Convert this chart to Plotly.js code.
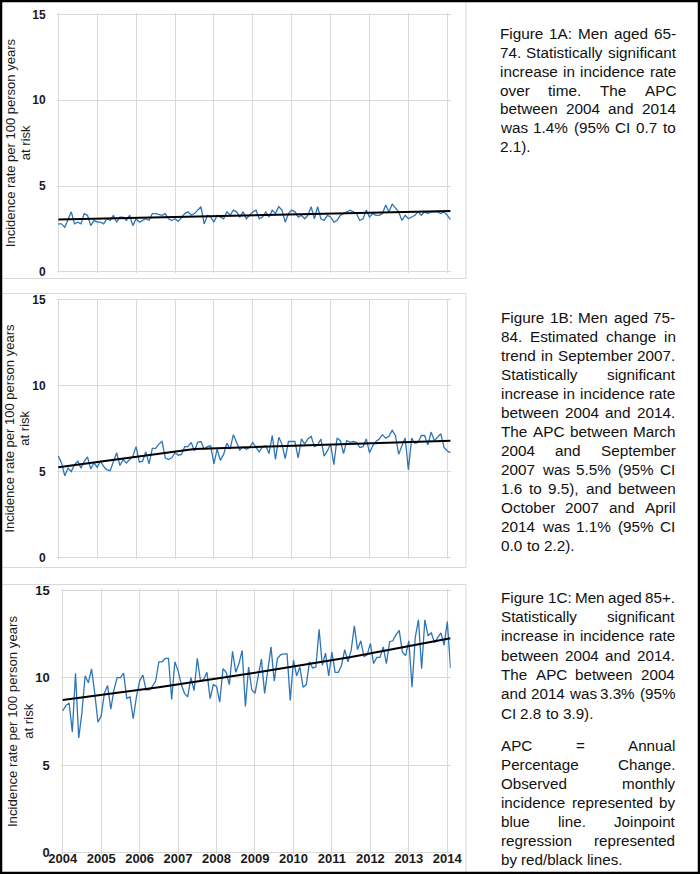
<!DOCTYPE html>
<html>
<head>
<meta charset="utf-8">
<script src="https://cdn.plot.ly/plotly-3.0.1.min.js"></script>
<style>
html,body{margin:0;padding:0;background:#fff;}
#chart{width:700px;height:874px;}
</style>
</head>
<body>
<div id="chart"></div>
<script>
// ---------------- DATA ----------------
const yearLabels = ['2004','2005','2006','2007','2008','2009','2010','2011','2012','2013','2014'];
const yearTickIndex = [0,12,24,36,48,60,72,84,96,108,120];   // month index of each year label
const yTickVals = [0,5,10,15];

// Observed monthly incidence (per 100 person years at risk), March 2004 .. April 2014
const men6574 = [2.8,2.8,2.6,3.0,3.5,2.8,2.9,2.8,3.4,3.3,
  2.7,3.0,2.9,2.9,2.8,3.1,3.0,3.3,2.9,3.2,
  3.2,3.0,3.3,2.7,3.1,2.9,3.0,3.1,3.0,3.4,
  3.4,3.35,3.3,3.4,3.1,3.0,3.1,2.95,3.2,3.4,
  3.5,3.3,3.4,3.6,3.8,2.8,3.3,3.2,2.9,3.3,
  3.2,3.1,3.5,3.3,3.6,3.5,3.2,3.5,3.1,3.3,
  3.5,3.6,3.1,3.2,3.5,3.2,3.6,3.4,3.8,3.6,
  2.9,3.4,3.6,3.5,3.2,3.3,3.1,3.3,3.8,3.1,
  3.8,3.1,3.0,3.3,3.2,2.9,3.0,3.3,3.4,3.5,
  3.6,3.5,3.4,3.0,3.1,3.6,3.2,3.4,3.3,3.3,
  3.4,3.9,3.5,3.95,3.7,3.5,3.0,3.3,3.1,3.2,
  3.3,3.5,3.3,3.5,3.4,3.5,3.5,3.5,3.4,3.5,
  3.3,3.05];

const men7584 = [5.9,5.5,4.75,5.2,5.0,5.4,5.6,5.2,5.6,5.85,
  5.15,5.5,5.25,5.6,5.3,5.1,5.05,5.6,6.1,5.35,
  5.7,5.5,5.7,5.9,6.45,5.55,5.6,6.15,5.45,6.35,
  6.35,6.6,6.75,5.8,5.7,5.8,6.1,5.95,6.0,6.45,
  6.45,6.7,6.2,6.7,6.75,6.3,6.45,6.5,5.45,6.3,
  5.65,6.0,6.65,6.3,7.15,6.7,6.25,6.45,6.3,6.4,
  6.7,6.4,6.15,6.45,6.5,6.05,7.1,5.7,7.0,6.6,
  5.75,6.75,6.75,6.75,5.8,6.9,6.6,6.9,7.05,6.45,
  6.55,6.9,5.9,6.2,6.6,5.4,6.95,6.8,6.05,6.8,
  6.7,6.75,6.7,6.4,6.45,6.9,6.1,6.5,6.75,6.9,
  7.15,6.95,7.05,7.4,7.1,6.0,6.5,6.95,5.1,6.95,
  6.65,6.7,7.1,7.1,6.55,7.3,6.8,7.0,7.2,6.4,
  6.2,6.1];

const men85 = [8.1,8.4,8.55,6.9,10.25,6.55,8.0,10.1,9.7,10.5,
  9.1,7.45,7.8,9.1,9.55,8.2,9.3,10.0,10.0,10.25,
  8.8,8.9,7.65,8.9,9.8,10.15,9.3,9.3,9.5,9.8,
  10.9,10.9,11.1,11.1,8.75,10.9,10.4,9.6,9.1,8.9,
  10.0,9.25,11.1,9.8,9.9,10.3,8.8,9.6,9.5,8.6,
  10.5,10.3,9.6,11.5,10.3,10.8,11.55,8.35,10.6,9.3,
  9.1,10.2,11.05,9.1,10.5,11.75,9.8,11.1,11.3,11.35,
  11.35,8.7,11.0,10.1,10.6,9.45,9.6,10.9,10.55,10.6,
  12.75,10.7,11.4,10.1,11.45,10.3,10.3,10.7,11.6,10.9,
  11.55,12.95,11.6,12.1,11.2,11.3,11.95,10.8,11.15,11.15,
  11.75,10.8,12.05,12.1,12.45,12.7,11.45,11.25,12.1,9.45,
  12.3,13.3,10.5,13.3,12.4,12.55,12.0,12.3,12.55,11.85,
  13.2,10.55];

// Joinpoint regression lines
const trend6574X = [0,121];
const trend6574Y = [3.06,3.55];
const trend7584X = [0,42,121];
const trend7584Y = [5.25,6.32,6.79];
const trend85X = [0,30,60,90,121];
const trend85Y = [8.72,9.45,10.27,11.17,12.24];

const yTitle1 = 'Incidence rate per 100 person years';
const yTitle2 = 'at risk';

const caption1 = ['Figure 1A: Men aged 65-','74. Statistically significant','increase in incidence rate',
  'over time. The APC','between 2004 and 2014','was 1.4% (95% CI 0.7 to','2.1).'];
const caption2 = ['Figure 1B: Men aged 75-','84. Estimated change in','trend in September 2007.',
  'Statistically significant','increase in incidence rate','between 2004 and 2014.',
  'The APC between March','2004 and September','2007 was 5.5% (95% CI',
  '1.6 to 9.5), and between','October 2007 and April','2014 was 1.1% (95% CI','0.0 to 2.2).'];
const caption3 = ['Figure 1C: Men aged 85+.','Statistically significant','increase in incidence rate',
  'between 2004 and 2014.','The APC between 2004','and 2014 was 3.3% (95%','CI 2.8 to 3.9).'];
const caption4 = ['APC = Annual','Percentage Change.','Observed monthly',
  'incidence represented by','blue line. Joinpoint','regression represented','by red/black lines.'];

// ---------------- LAYOUT ----------------
const W = 700, H = 874;
const FONT = '"Liberation Sans", Arial, sans-serif';
const GRID = '#d9d9d9';
const BLUE = '#2E75B6';
const xRange = [-0.4, 121.05];
const yRange = [-0.07, 15.07];

function px2x(p){ return p / W; }
function px2y(p){ return 1 - p / H; }

function geom(x0, x120, y0, y15){
  const xp = (x120 - x0) / 120, yp = (y0 - y15) / 15;
  return {
    xd: [px2x(x0 + xRange[0]*xp), px2x(x0 + xRange[1]*xp)],
    yd: [px2y(y0 - yRange[0]*yp), px2y(y0 - yRange[1]*yp)],
    cy: (y0 + y15) / 2
  };
}
const g1 = geom(58.3, 447.3, 272.0, 14.3);
const g2 = geom(58.3, 447.3, 557.3, 300.0);
const g3 = geom(62.7, 447.3, 852.7, 590.0);

function xAxis(g, anchor, labels){
  return {
    domain: g.xd, range: xRange, anchor: anchor,
    tickmode: 'array', tickvals: yearTickIndex, ticktext: yearLabels,
    showticklabels: labels, ticks: '', ticklabelstandoff: -5,
    tickfont: {family: FONT, size: 13, weight: 'bold', color: '#1a1a1a'},
    showgrid: true, gridcolor: GRID, gridwidth: 1,
    zeroline: false, showline: false, fixedrange: true
  };
}
function yAxis(g, anchor, fs){
  return {
    domain: g.yd, range: yRange, anchor: anchor,
    tickmode: 'array', tickvals: yTickVals, ticktext: yTickVals.map(String),
    ticks: 'outside', ticklen: 8, tickcolor: 'rgba(0,0,0,0)',
    tickfont: {family: FONT, size: fs, weight: 'bold', color: '#1a1a1a'},
    showgrid: true, gridcolor: GRID, gridwidth: 1,
    zeroline: false, showline: false, fixedrange: true
  };
}

const idx = a => a.map((_, i) => i);
const traces = [
  {x: idx(men6574), y: men6574, xaxis: 'x', yaxis: 'y', mode: 'lines', line: {color: BLUE, width: 1.3}, hoverinfo: 'skip'},
  {x: trend6574X, y: trend6574Y, xaxis: 'x', yaxis: 'y', mode: 'lines', line: {color: '#000', width: 2}, hoverinfo: 'skip'},
  {x: idx(men7584), y: men7584, xaxis: 'x2', yaxis: 'y2', mode: 'lines', line: {color: BLUE, width: 1.3}, hoverinfo: 'skip'},
  {x: trend7584X, y: trend7584Y, xaxis: 'x2', yaxis: 'y2', mode: 'lines', line: {color: '#000', width: 2}, hoverinfo: 'skip'},
  {x: idx(men85), y: men85, xaxis: 'x3', yaxis: 'y3', mode: 'lines', line: {color: BLUE, width: 1.3}, hoverinfo: 'skip'},
  {x: trend85X, y: trend85Y, xaxis: 'x3', yaxis: 'y3', mode: 'lines', line: {color: '#000', width: 2}, hoverinfo: 'skip'}
];

const annotations = [];
function yTitle(xa, xb, cy, fs){
  [[yTitle1, xa], [yTitle2, xb]].forEach(([t, xp]) => {
    annotations.push({text: t, xref: 'paper', yref: 'paper', x: px2x(xp), y: px2y(cy),
      xanchor: 'center', yanchor: 'middle', textangle: -90, showarrow: false,
      font: {family: FONT, size: fs, color: '#1a1a1a'}});
  });
}
yTitle(10, 25, g1.cy, 13);
yTitle(10, 25, g2.cy, 13);
yTitle(12.7, 28.5, g3.cy, 13.2);

// justified paragraphs: every word placed so each line spans the column
const ctx = document.createElement('canvas').getContext('2d');
function wordWidth(t, fs){ ctx.font = fs + 'px "Liberation Sans"'; return ctx.measureText(t).width; }
function paragraph(lines, left, right, y0, step, fs){
  lines.forEach((line, li) => {
    const words = line.split(' ');
    const ws = words.map(w => wordWidth(w, fs));
    const total = ws.reduce((a, b) => a + b, 0);
    const last = li === lines.length - 1;
    const sp = wordWidth(' ', fs);
    let gap = (last || words.length < 2) ? sp : (right - left - total) / (words.length - 1);
    if (gap < sp * 0.6) gap = sp * 0.6;
    let x = left;
    words.forEach((w, wi) => {
      annotations.push({text: w, xref: 'paper', yref: 'paper', x: px2x(x), y: px2y(y0 + li*step),
        xanchor: 'left', yanchor: 'middle', showarrow: false, borderpad: 0, borderwidth: 0,
        font: {family: FONT, size: fs, color: '#111'}});
      x += ws[wi] + gap;
    });
  });
}
paragraph(caption1, 500, 676, 33.3, 18.9, 15.3);
paragraph(caption2, 501, 675.5, 317.3, 19.0, 15.3);
paragraph(caption3, 501, 675, 597.3, 19.3, 15.2);
paragraph(caption4, 501, 675, 745.0, 19.05, 15.2);

function rect(x0, y0, x1, y1, color, width){
  return {type: 'rect', xref: 'paper', yref: 'paper', x0: px2x(x0), x1: px2x(x1), y0: px2y(y1), y1: px2y(y0),
    line: {color: color, width: width}, fillcolor: 'rgba(0,0,0,0)', layer: 'above'};
}
const shapes = [
  rect(0.5, 0.5, 466, 278.5, GRID, 1),
  rect(0.5, 293.5, 466, 567.5, GRID, 1),
  rect(0.5, 584.5, 466, 873.5, GRID, 1),
  rect(0, 0, 700, 874, '#000', 4.5)
];

const layout = {
  width: W, height: H,
  margin: {l: 0, r: 0, t: 0, b: 0, pad: 0},
  paper_bgcolor: '#fff', plot_bgcolor: 'rgba(0,0,0,0)',
  showlegend: false,
  font: {family: FONT, color: '#111'},
  xaxis: xAxis(g1, 'y', false), yaxis: yAxis(g1, 'x', 12),
  xaxis2: xAxis(g2, 'y2', false), yaxis2: yAxis(g2, 'x2', 12),
  xaxis3: xAxis(g3, 'y3', true), yaxis3: yAxis(g3, 'x3', 13),
  annotations: annotations,
  shapes: shapes
};

Plotly.newPlot('chart', traces, layout, {staticPlot: true, displayModeBar: false});
</script>
</body>
</html>
